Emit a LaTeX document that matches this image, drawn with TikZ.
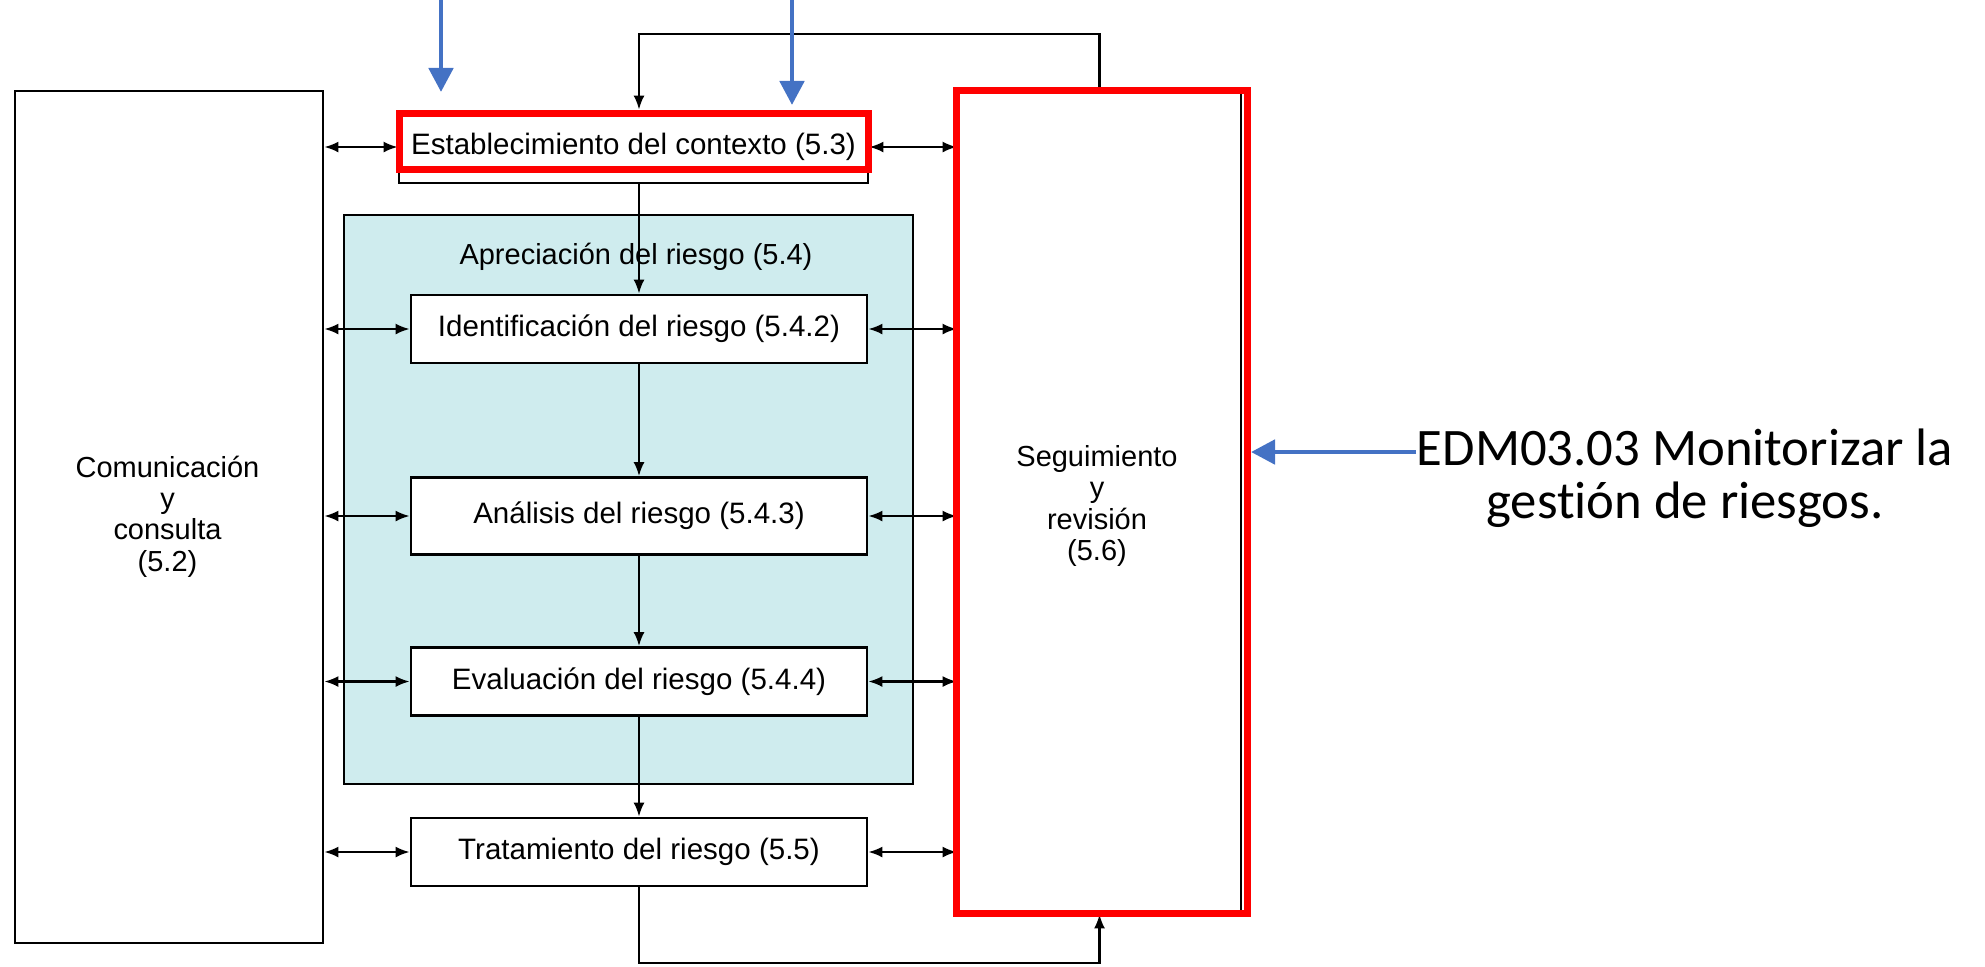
\documentclass[tikz,border=0pt]{standalone}
\usepackage{fontspec}
\setmainfont{Liberation Sans}
\newfontfamily\slidefont[Ligatures=NoCommon]{Carlito}
\usetikzlibrary{positioning, arrows.meta, calc}
\definecolor{cRed}{RGB}{255,0,0}
\definecolor{cBlue}{RGB}{68,114,196}
\definecolor{cHatch}{RGB}{207,236,238}
\newcommand{\tightlines}{\lineskiplimit=-10pt\relax}

\begin{document}
\begin{tikzpicture}[
    box/.style={draw, line width=0.8pt, fill=white, inner sep=0pt, font=\fontsize{8.4}{7}\selectfont},
    lbl/.style={font=\fontsize{8.25}{8.9}\selectfont\tightlines, align=center, inner sep=0pt},
    redframe/.style={draw=cRed, line width=2pt, inner sep=0pt},
    link/.style={line width=0.6pt, {Latex[length=1.4mm,width=1.1mm]}-{Latex[length=1.4mm,width=1.1mm]}},
    flow/.style={line width=0.6pt, -{Latex[length=1.4mm,width=1.1mm]}},
    pointer/.style={cBlue, line width=1.4pt, -{Triangle[length=2.4mm,width=2.4mm]}}
]
    \useasboundingbox (0,0) rectangle (19.85,-9.66);

    % Risk assessment area
    \node[draw, line width=0.8pt, fill=cHatch, minimum width=5.69cm, minimum height=5.69cm] (apr) at (6.285,-4.995) {};
    \node[lbl] (aprt) at (6.36,-2.57) {Apreciación del riesgo (5.4)};

    % Side blocks
    \node[box, minimum width=3.08cm, minimum height=8.52cm] (com) at (1.69,-5.17) {};
    \node[lbl] (comt) at (1.675,-5.165) {Comunicación\\y\\consulta\\(5.2)};
    \node[box, minimum width=2.83cm, minimum height=8.22cm] (seg) at (10.995,-5.02) {};
    \node[lbl] (segt) at (10.97,-5.06) {Seguimiento\\y\\revisión\\(5.6)};

    % Process steps
    \node[box, minimum width=4.69cm, minimum height=0.72cm] (ctx) at (6.335,-1.47) {Establecimiento del contexto (5.3)};
    \node[box, minimum width=4.56cm, minimum height=0.68cm] (ide) at (6.39,-3.29) {Identificación del riesgo (5.4.2)};
    \node[box, minimum width=4.56cm, minimum height=0.77cm] (ana) at (6.39,-5.16) {Análisis del riesgo (5.4.3)};
    \node[box, minimum width=4.56cm, minimum height=0.68cm] (eva) at (6.39,-6.815) {Evaluación del riesgo (5.4.4)};
    \node[box, minimum width=4.56cm, minimum height=0.68cm] (tra) at (6.39,-8.52) {Tratamiento del riesgo (5.5)};

    % Main flow
    \draw[flow] (ctx.south -| ide.north) -- (ide.north);
    \draw[flow] (ide.south) -- (ana.north);
    \draw[flow] (ana.south) -- (eva.north);
    \draw[flow] (eva.south) -- (tra.north);

    % Links to both sides
    \foreach \n in {ctx, ide, ana, eva, tra} {
        \draw[link] (\n.west -| com.east) -- (\n.west);
        \draw[link] (\n.east) -- (\n.east -| seg.west);
    }

    % Feedback loops
    \coordinate (fbtop) at (0,-0.34);
    \coordinate (fbbot) at (0,-9.63);
    \draw[flow] (seg.north) -- (seg.north |- fbtop) -| (ctx.north -| ide.north);
    \draw[flow] (tra.south) -- (tra.south |- fbbot) -| (seg.south);

    % Highlights
    \node[redframe, minimum width=4.69cm, minimum height=0.56cm] (ctxr) at (6.34,-1.415) {};
    \node[redframe, minimum width=2.91cm, minimum height=8.23cm] (segr) at (11.02,-5.02) {};

    % Annotation
    \node[font=\slidefont\fontsize{15}{15}\selectfont, align=center, inner sep=0pt] (edm) at (16.85,-4.78) {EDM03.03 Monitorizar la\\gestión de riesgos.};
    \draw[pointer] ($(edm.west)+(0,0.26)$) -- ($(edm.west -| segr.east)+(0,0.26)$);

    \coordinate (in1) at (4.41,0);
    \coordinate (in2) at (7.92,0);
    \draw[pointer, shorten >=1.8mm] (in1) -- (in1 |- ctxr.north);
    \draw[pointer, shorten >=0.5mm] (in2) -- (in2 |- ctxr.north);
\end{tikzpicture}
\end{document}
